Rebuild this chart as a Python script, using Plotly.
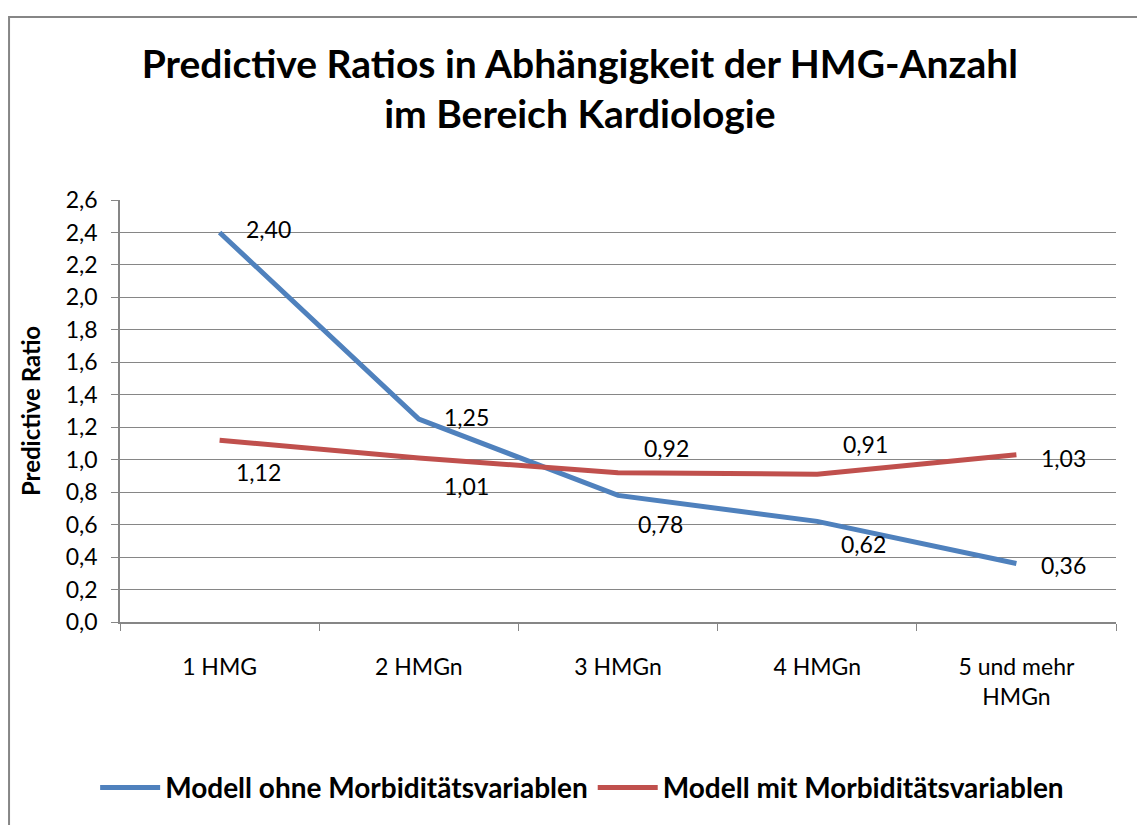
import plotly.graph_objects as go

categories = ["1 HMG", "2 HMGn", "3 HMGn", "4 HMGn", "5 und mehr<br>HMGn"]
ohne_morb = [2.40, 1.25, 0.78, 0.62, 0.36]
mit_morb = [1.12, 1.01, 0.92, 0.91, 1.03]
series_names = ["Modell ohne Morbiditätsvariablen", "Modell mit Morbiditätsvariablen"]
y_ticks = [round(i * 0.2, 1) for i in range(14)]

BLUE = "#4F81BD"
RED = "#C0504D"
GRID = "#868686"
FONT = "Lato"

fig = go.Figure()
fig.add_trace(go.Scatter(x=categories, y=ohne_morb, mode="lines", name=series_names[0],
                         line=dict(color=BLUE, width=5)))
fig.add_trace(go.Scatter(x=categories, y=mit_morb, mode="lines", name=series_names[1],
                         line=dict(color=RED, width=5)))

def fmt(v):
    return f"{v:.2f}".replace(".", ",")

blue_shift = [(49, -3), (48, -2), (42, 29), (46, 23), (47, 1)]
red_shift = [(39, 32), (48, 28), (48, -25), (48, -30), (47, 3)]
for vals, shifts in ((ohne_morb, blue_shift), (mit_morb, red_shift)):
    for c, v, (dx, dy) in zip(categories, vals, shifts):
        fig.add_annotation(x=c, y=v, text=fmt(v), showarrow=False,
                           xshift=dx, yshift=-dy,
                           font=dict(family=FONT, size=23, color="black"))

# outer chart border (right and bottom edges fall outside the picture)
fig.add_shape(type="rect", xref="paper", yref="paper",
              x0=-0.1114, x1=1.06, y0=-0.52, y1=1.4339,
              line=dict(color=GRID, width=2), fillcolor="rgba(0,0,0,0)", layer="below")

fig.update_layout(
    width=1137, height=825,
    paper_bgcolor="white", plot_bgcolor="white",
    separators=",.",
    margin=dict(l=120, r=21, t=200, b=194),
    title=dict(text="<b>Predictive Ratios in Abhängigkeit der HMG-Anzahl<br>im Bereich Kardiologie</b>",
               x=0.51, xanchor="center", y=0.906, yanchor="top",
               font=dict(family=FONT, size=39, color="black")),
    showlegend=True,
    legend=dict(orientation="h", x=0.464, xanchor="center", y=-0.393, yanchor="middle",
                font=dict(family=FONT, size=28, color="black", weight="bold"),
                itemwidth=60, bgcolor="rgba(0,0,0,0)"),
    font=dict(family=FONT, color="black"),
)
fig.update_xaxes(type="category", tickson="boundaries", ticks="outside", ticklen=7,
                 range=[-0.5, 4.5], automargin=False,
                 tickcolor=GRID, showline=True, linecolor=GRID, linewidth=1.5,
                 showgrid=False, tickfont=dict(family=FONT, size=23, color="black"),
                 ticklabelstandoff=24)
fig.update_yaxes(range=[0, 2.6], tickvals=y_ticks, tickformat=".1f", ticks="outside",
                 automargin=False,
                 ticklen=7, tickcolor=GRID, showline=True, linecolor=GRID, linewidth=1.5,
                 showgrid=True, gridcolor=GRID, gridwidth=1, zeroline=False,
                 tickfont=dict(family=FONT, size=23, color="black"), ticklabelstandoff=9,
                 title=dict(text="<b>Predictive Ratio</b>", font=dict(family=FONT, size=24, color="black"),
                            standoff=18))

fig.write_html("out.html", config={"displayModeBar": False},
               post_script="document.body.style.margin='0';")
